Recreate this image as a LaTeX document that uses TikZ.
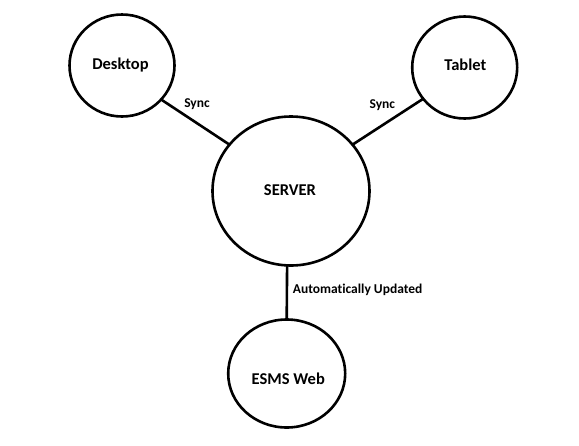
\documentclass[tikz,border=0pt]{standalone}
\usepackage{fontspec}
\setmainfont{Carlito}[Ligatures=NoCommon]
\usetikzlibrary{shapes.geometric}
\begin{document}
\begin{tikzpicture}[x=1pt,y=-1pt,
  ring/.style={draw=black,line width=2.6pt,ellipse,inner sep=0pt,outer sep=0pt},
  big/.style={font=\fontsize{16.5}{18}\selectfont\bfseries,inner sep=0pt},
  small/.style={font=\fontsize{13.5}{15}\selectfont\bfseries,inner sep=0pt},
  link/.style={draw=black,line width=2.6pt}]
\useasboundingbox (0,0) rectangle (579,445);
\node[ring,minimum width=105pt,minimum height=102pt] (desk) at (122,65.5) {};
\node[ring,minimum width=105pt,minimum height=102pt] (tab) at (464.7,67.5) {};
\node[ring,minimum width=157pt,minimum height=149pt] (srv) at (291,191) {};
\node[ring,minimum width=117pt,minimum height=108pt] (web) at (286.7,373.5) {};
\node[big] (tdesk) at (120.5,65) {Desktop};
\node[big] (ttab) at (465.3,64.5) {Tablet};
\node[big] (tsrv) at (290,190.5) {SERVER};
\node[big] (tweb) at (288.3,378.3) {ESMS Web};
\draw[link] (desk.-41.7) -- (srv.143.9);
\draw[link] (tab.217.2) -- (srv.37);
\draw[link] (srv.-93.8) -- (web.90);
\node[small] (s1) at (197,104) {Sync};
\node[small] (s2) at (382.3,105.3) {Sync};
\node[small,anchor=west] (au) at (292.7,290) {Automatically Updated};
\end{tikzpicture}
\end{document}
